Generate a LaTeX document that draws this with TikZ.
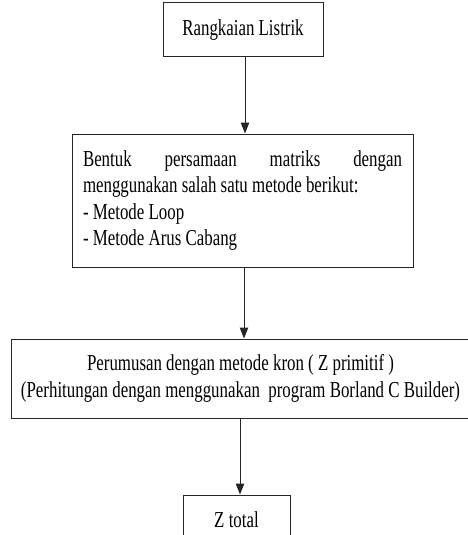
\documentclass[tikz,border=0pt]{standalone}
\usepackage{fontspec}
\setmainfont{Liberation Serif}[FakeStretch=0.74]
\usetikzlibrary{arrows.meta}
\begin{document}
\begin{tikzpicture}[x=1pt,y=-1pt,
  txt/.style={font=\fontsize{22.8}{26.5}\selectfont},
  box/.style={draw=black!85, line width=1pt, inner sep=0pt, txt},
  arr/.style={draw=black!85, line width=1pt, -{Triangle[length=11pt,width=8.5pt]}}]
\useasboundingbox (0,0) rectangle (468,535);
\node[box, minimum width=160pt, minimum height=54pt] (b1) at (243,30) {Rangkaian Listrik};
\node[box, minimum width=341pt, minimum height=133pt, align=left] (b2) at (242.5,200.5)
  {\hbox to 319pt{Bentuk\hfill persamaan\hfill matriks\hfill dengan}\\
   menggunakan salah satu metode berikut:\\
   - Metode Loop\\
   - Metode Arus Cabang};
\node[box, minimum width=459pt, minimum height=79pt, align=center] (b3) at (240.5,378.5)
  {Perumusan dengan metode kron ( Z primitif )\\
   (Perhitungan dengan menggunakan \ program Borland C Builder)};
\node[box, minimum width=107pt, minimum height=49pt] (b4) at (236.5,519.5) {Z total};
\draw[arr] ([xshift=2pt]b1.south) -- ([xshift=2pt]b1.south |- b2.north);
\draw[arr] ([xshift=1.5pt]b2.south) -- ([xshift=1.5pt]b2.south |- b3.north);
\draw[arr] ([xshift=-0.5pt]b3.south) -- ([xshift=-0.5pt]b3.south |- b4.north);
\end{tikzpicture}
\end{document}
